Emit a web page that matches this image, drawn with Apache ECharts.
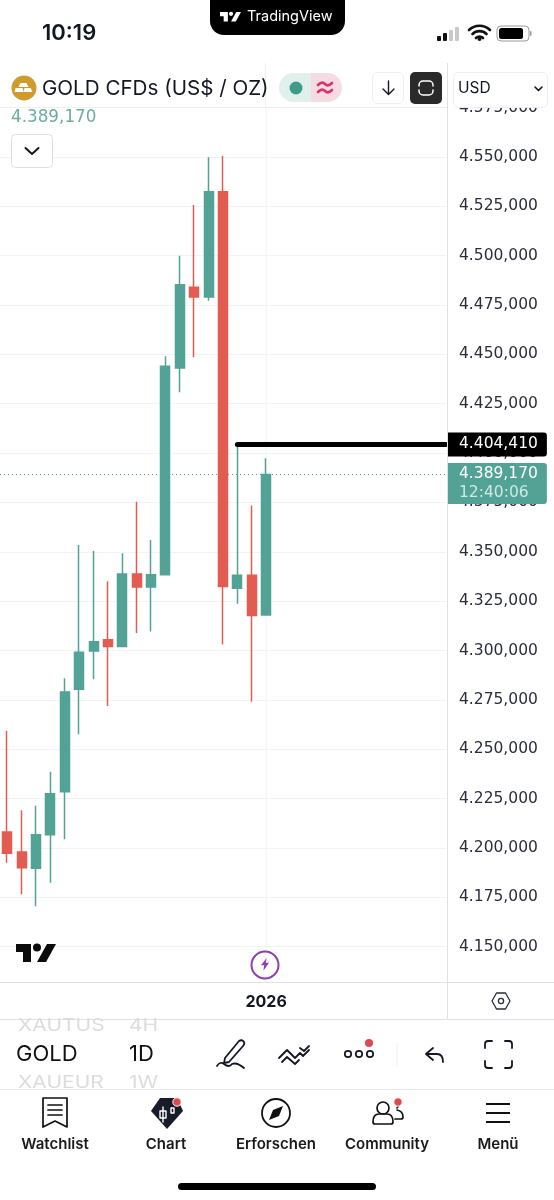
<!DOCTYPE html>
<html>
<head>
<meta charset="utf-8">
<title>GOLD CFDs</title>
<style>
	html, body { margin: 0; padding: 0; background: #fff; }
	#chart { width: 554px; height: 1200px; }
</style>
<script src="https://cdn.jsdelivr.net/npm/echarts@6/dist/echarts.min.js"></script>
</head>
<body>
<div id="chart"></div>
<script>
// 日K (values in thousands on the price scale, 4550 = 4.550,000)
var opens  = [4208.1, 4198.0, 4189.7, 4206.7, 4228.5, 4280.4, 4299.8, 4305.4, 4302.0, 4338.8, 4332.2, 4338.4, 4443.1, 4484.0, 4479.1, 4532.4, 4331.5, 4338.1, 4318.0];
var closes = [4197.3, 4190.0, 4206.7, 4227.5, 4279.0, 4299.1, 4304.5, 4302.0, 4338.8, 4332.2, 4338.4, 4444.0, 4485.3, 4479.1, 4532.4, 4332.4, 4338.1, 4317.7, 4389.17];
var lows   = [4192.5, 4176.5, 4170.5, 4182.4, 4204.4, 4257.6, 4285.4, 4271.9, 4301.7, 4308.9, 4309.6, 4338.4, 4430.8, 4448.5, 4477.2, 4303.0, 4323.7, 4274.1, 4318.0];
var highs  = [4259.4, 4219.1, 4221.4, 4238.6, 4286.0, 4353.5, 4350.4, 4335.1, 4349.3, 4375.3, 4356.0, 4449.0, 4499.9, 4525.7, 4549.8, 4550.5, 4404.1, 4373.4, 4397.4];

// one label only, the rest of the slots are empty days
var categories = ['', '', '', '', '', '', '', '', '', '', '', '', '', '', '', '', '', '', '2026', '', '', '', '', '', '', '', '', '', '', '', ''];
var priceTicks = [4150, 4175, 4200, 4225, 4250, 4275, 4300, 4325, 4350, 4375, 4400, 4425, 4450, 4475, 4500, 4525, 4550, 4575];

var trendLevel = 4404.41;
var trendStart = 16;
var lastPrice = 4389.17;
var countdown = '12:40:06';
var yearSlot = 18;

var UP = '#52a396';
var DOWN = '#e25c52';
var GRID = '#f1f3f6';
var EDGE = '#dfe1e6';
var INK = '#131722';
var FONT = 'Inter, Roboto, sans-serif';
var NUM_FONT = '"DejaVu Sans", sans-serif'; // tabular digits like the app's price scale
var yMin = 4132.1;
var yMax = 4575.3;

function fmt(v) {
	var s = v.toFixed(3).replace('.', ',');
	return s.charAt(0) + '.' + s.slice(1);
}

var candles = [];
for (var i = 0; i < opens.length; i++) {
	candles.push([opens[i], closes[i], lows[i], highs[i]]);
}

// the graphic component has no plain path type, so each icon gets a registered shape
var iconCount = 0;
function icon(d, x, y, scale, style) {
	var name = 'appIcon' + (iconCount++);
	echarts.graphic.registerShape(name, echarts.graphic.extendPath(d, {}));
	return { type: name, z: 50, x: x, y: y, scaleX: scale, scaleY: scale, style: style };
}
function stroke(c, w) {
	return { fill: 'none', stroke: c || INK, lineWidth: w || 2, lineCap: 'round', lineJoin: 'round' };
}
function rect(x, y, w, h, fill, r, line) {
	return { type: 'rect', z: 50, shape: { x: x, y: y, width: w, height: h, r: r || 0 }, style: { fill: fill, stroke: line || null, lineWidth: line ? 1 : 0 } };
}
function hline(x1, y1, x2, y2, c, w) {
	return { type: 'line', z: 50, shape: { x1: x1, y1: y1, x2: x2, y2: y2 }, style: { stroke: c || EDGE, lineWidth: w || 1 } };
}
function circle(cx, cy, r, style) {
	return { type: 'circle', z: 50, shape: { cx: cx, cy: cy, r: r }, style: style };
}
function label(x, y, t, size, weight, color, align, family) {
	return { type: 'text', z: 51, x: x, y: y, style: { text: t, font: (weight || 400) + ' ' + size + 'px ' + (family || FONT), fill: color || INK, textAlign: align || 'left', textVerticalAlign: 'middle' } };
}
// picker rows above and below the selected one look squashed
function wheelLabel(x, y, t) {
	var el = label(x, y, t, 21, 400, '#dcdcdc');
	el.scaleY = 0.8;
	return el;
}

var TV_LOGO = 'M0 0H15V18H7V8H0Z M17 3.5a4 4 0 1 0 8 0a4 4 0 1 0 -8 0Z M31 0H40L30 18H21Z';

var chrome = [
	// status bar
	label(42, 33, '10:19', 22, 600),
	icon('M210 0H345V21a14 14 0 0 1 -14 14H224a14 14 0 0 1 -14 -14Z', 0, 0, 1, { fill: '#000' }),
	icon(TV_LOGO, 220, 12, 0.525, { fill: '#fff' }),
	label(247, 17, 'TradingView', 14.5, 400, '#fff'),
	rect(437, 36, 4, 5, '#111', 1), rect(443, 33, 4, 8, '#111', 1), rect(449, 30, 4, 11, '#c9c9c9', 1), rect(455, 27, 4, 14, '#c9c9c9', 1),
	icon('M0 5a15 15 0 0 1 21 0 M3.5 9a10 10 0 0 1 14 0 M7 13a5 5 0 0 1 7 0', 469, 25, 1, stroke('#111', 2.6)),
	circle(479.5, 39, 2, { fill: '#111' }),
	rect(497, 26, 32, 15, '#fff', 4, '#9a9a9a'),
	rect(499, 28, 24, 11, '#000', 2.5),
	rect(530, 31, 1.5, 5, '#9a9a9a', 1),

	// header strip, covers the top of the price scale
	rect(0, 60, 554, 47, '#fff'),
	hline(0, 107.5, 447, 107.5, '#eeeff2'),
	hline(265.5, 63, 265.5, 107, '#eeeff2'),
	hline(447.5, 63, 447.5, 1019, EDGE),
	circle(24, 88, 12.5, { fill: '#d09b2c' }),
	icon('M5 0H11L13 4H3Z M0 5H7L8 9H-1Z M9 5H15L17 9H8Z', 15.5, 83, 1, { fill: '#fff' }),
	label(42, 88.5, 'GOLD CFDs (US$ / OZ)', 20.6, 400),
	icon('M311 73H293.5a14.5 14.5 0 0 0 0 29H311Z', 0, 0, 1, { fill: '#e0f0ec' }),
	icon('M311 73H327.5a14.5 14.5 0 0 1 0 29H311Z', 0, 0, 1, { fill: '#f7dbe3' }),
	circle(296, 88, 6.5, { fill: '#3f9b87' }),
	icon('M0 3q4 -4 7 -1t7 -1 M0 10q4 -4 7 -1t7 -1', 318, 82, 1, stroke('#d6336c', 2.6)),
	rect(372.5, 72.5, 31, 31, '#fff', 5, '#eceef1'),
	icon('M5.5 0V13 M0 8L5.5 13.5L11 8', 383, 81, 1, stroke(INK, 1.4)),
	rect(410, 72, 32, 32, '#2a2a2a', 5),
	icon('M0 5V4a4 4 0 0 1 4 -4H10a4 4 0 0 1 4 4V5 M0 9V10a4 4 0 0 0 4 4H10a4 4 0 0 0 4 -4V9', 419, 81, 1, stroke('#fff', 1.5)),
	rect(453.5, 72.5, 94, 35, '#fff', 5, '#eceef1'),
	label(458, 88, 'USD', 15.5, 400),
	icon('M0 0L3.5 3.5L7 0', 535, 87, 1, stroke(INK, 1.6)),
	label(11, 118, fmt(lastPrice), 16.8, 400, '#6aae9f', 'left', NUM_FONT),
	rect(11.5, 134.5, 41, 33, '#fff', 4, '#dcdee3'),
	icon('M0 0L6.5 6L13 0', 25.5, 148, 1, stroke(INK, 2)),

	// watermark, event marker, scale settings
	icon(TV_LOGO, 16, 944, 1, { fill: '#0b0b0b' }),
	circle(265, 965, 13.5, { fill: '#fff', stroke: '#8e3fb0', lineWidth: 2 }),
	icon('M7 0L0 9H4L3 16L10 6H6Z', 261, 958, 0.8, { fill: '#8e3fb0' }),
	hline(0, 982.5, 554, 982.5, EDGE),
	hline(0, 1019.5, 554, 1019.5, EDGE),
	icon('M4.5 0H13.5L18 8L13.5 16H4.5L0 8Z', 492, 993, 1, stroke('#2a2e39', 1.3)),
	circle(501, 1001, 2.6, stroke('#2a2e39', 1.3)),

	// symbol / interval wheel
	wheelLabel(18, 1025.5, 'XAUTUS'),
	wheelLabel(129, 1025.5, '4H'),
	rect(0, 1010, 200, 9, '#fff'),
	hline(0, 1019.5, 200, 1019.5, EDGE),
	label(16, 1054, 'GOLD', 22, 400, '#111'),
	label(129, 1054, '1D', 22, 400, '#111'),
	wheelLabel(18, 1083, 'XAUEUR'),
	wheelLabel(129, 1083, '1W'),
	rect(0, 1089, 200, 10, '#fff'),
	hline(0, 1089.5, 554, 1089.5, '#e9eaed'),

	// drawing toolbar
	icon('M8 19L22 2Q25 0 27 3Q28 5 26 7L12 23L7 24Z M0 27Q3 22 7 25Q12 29 15 25Q20 23 27 29', 217, 1039, 1, stroke(INK, 1.8)),
	icon('M0 13L8 5L16 13L21 8L24 11L30 5 M3 17L8 12L16 19L20 15 M21 3L25 6L30 1', 279, 1045, 1, stroke(INK, 1.8)),
	circle(348, 1054, 3.2, stroke(INK, 1.7)), circle(359, 1054, 3.2, stroke(INK, 1.7)), circle(370, 1054, 3.2, stroke(INK, 1.7)),
	circle(369, 1043, 4, { fill: '#e0484d' }),
	hline(397, 1042, 397, 1066, '#efeff1'),
	icon('M7 0L0 6L7 12 M0 6H11Q17 6 17 14', 426, 1048, 1, stroke(INK, 1.8)),
	icon('M0 7V3Q0 0 3 0H7 M20 0H24Q27 0 27 3V7 M27 20V24Q27 27 24 27H20 M7 27H3Q0 27 0 24V20', 485, 1041, 1, stroke(INK, 1.8)),

	// tab bar
	icon('M0 0H24V29L12 23L0 29Z M5 7H19 M5 12H19 M5 17H19', 43, 1098, 1, stroke('#111', 1.7)),
	icon('M9 0H26L32 13L16 31L0 13Z', 151, 1098, 1, { fill: '#181c2a' }),
	icon('M0 4H6V11H0Z M3 0V15 M11 1H14V6H11Z', 160, 1107, 1, stroke('#fff', 1.4)),
	circle(177, 1102, 4.2, { fill: '#e0484d', stroke: '#fff', lineWidth: 1 }),
	circle(276, 1113, 14, stroke('#111', 1.8)),
	icon('M14 0L10 10L0 14L4 4Z', 269, 1106, 1, { fill: '#111' }),
	circle(383, 1108, 6, stroke('#111', 1.7)),
	icon('M0 12Q0 4 6 4H14Q20 4 20 12Q20 14 18 14H2Q0 14 0 12Z', 373, 1110, 1, stroke('#111', 1.7)),
	icon('M0 9H6Q8 9 8 7Q8 1 2 0 M1 -7Q5 -5 2 -2', 395, 1110, 1, stroke('#111', 1.7)),
	circle(398, 1102, 4.2, { fill: '#e0484d', stroke: '#fff', lineWidth: 1 }),
	hline(486, 1104, 510, 1104, '#111', 2), hline(486, 1113, 510, 1113, '#111', 2), hline(486, 1122, 510, 1122, '#111', 2),
	label(55, 1144, 'Watchlist', 15, 600, '#1a1a1a', 'center'),
	label(166, 1144, 'Chart', 15, 600, '#1a1a1a', 'center'),
	label(276, 1144, 'Erforschen', 15, 600, '#1a1a1a', 'center'),
	label(387, 1144, 'Community', 15, 600, '#1a1a1a', 'center'),
	label(498, 1144, 'Menü', 15, 600, '#1a1a1a', 'center'),
	rect(178, 1183, 198, 7, '#000', 3.5)
];

var myChart = echarts.init(document.getElementById('chart'), null, { renderer: 'canvas' });

var option = {
	animation: false,
	backgroundColor: '#fff',
	textStyle: { fontFamily: FONT },
	grid: { left: -3, right: 108, top: 107, bottom: 218, containLabel: false },
	xAxis: [ {
		type: 'category',
		data: categories,
		axisTick: { show: false },
		axisLine: { show: false },
		splitLine: { show: false },
		axisLabel: { interval: 0, margin: 12, fontSize: 16, fontWeight: 700, fontFamily: FONT, color: INK }
	}, {
		// same slots as a number line, for the level lines
		type: 'value',
		show: false,
		min: -0.5,
		max: 30.5
	} ],
	yAxis: {
		type: 'value',
		position: 'right',
		min: yMin,
		max: yMax,
		axisLine: { show: false },
		axisTick: { show: false, customValues: priceTicks },
		splitLine: { show: true, lineStyle: { color: GRID, width: 1 } },
		axisLabel: {
			customValues: priceTicks,
			margin: 13,
			padding: [ 2, 0, 0, 0 ],
			fontSize: 15.5,
			fontFamily: NUM_FONT,
			color: '#2a2e39',
			formatter: fmt
		}
	},
	series: [ {
		name: 'year',
		type: 'line',
		xAxisIndex: 1,
		z: 1,
		symbol: 'none',
		lineStyle: { color: GRID, width: 1 },
		data: [ [ yearSlot, yMin ], [ yearSlot, yMax ] ]
	}, {
		name: 'last',
		type: 'line',
		xAxisIndex: 1,
		z: 1,
		symbol: 'none',
		lineStyle: { color: UP, width: 1, type: [ 1, 3 ] },
		data: [ [ -0.5, lastPrice ], [ 30.5, lastPrice ] ],
		endLabel: {
			show: true,
			distance: 2,
			align: 'left',
			offset: [ 0, 9 ],
			backgroundColor: UP,
			borderRadius: [ 0, 3, 3, 0 ],
			padding: [ 1, 9, 1, 11 ],
			formatter: function () {
				return '{a|' + fmt(lastPrice) + '}\n{b|' + countdown + '}';
			},
			rich: {
				a: { color: '#fff', fontSize: 15.5, lineHeight: 19.5, fontFamily: NUM_FONT },
				b: { color: '#cfe9e2', fontSize: 15.5, lineHeight: 19.5, fontFamily: NUM_FONT }
			}
		}
	}, {
		name: 'GOLD',
		type: 'candlestick',
		z: 2,
		barWidth: 9.5,
		itemStyle: { color: UP, color0: DOWN, borderColor: UP, borderColor0: DOWN, borderWidth: 1.5 },
		data: candles
	}, {
		name: 'level',
		type: 'line',
		xAxisIndex: 1,
		z: 3,
		symbol: 'none',
		lineStyle: { color: '#000', width: 5, cap: 'round' },
		data: [ [ trendStart, trendLevel ], [ 30.5, trendLevel ] ],
		endLabel: {
			show: true,
			distance: 2,
			align: 'left',
			backgroundColor: '#000',
			color: '#fff',
			borderRadius: [ 0, 3, 3, 0 ],
			padding: [ 4, 9, 4, 11 ],
			fontSize: 15.5,
			fontFamily: NUM_FONT,
			formatter: function () {
				return fmt(trendLevel);
			}
		}
	} ],
	graphic: { elements: chrome }
};

myChart.setOption(option);
</script>
</body>
</html>
